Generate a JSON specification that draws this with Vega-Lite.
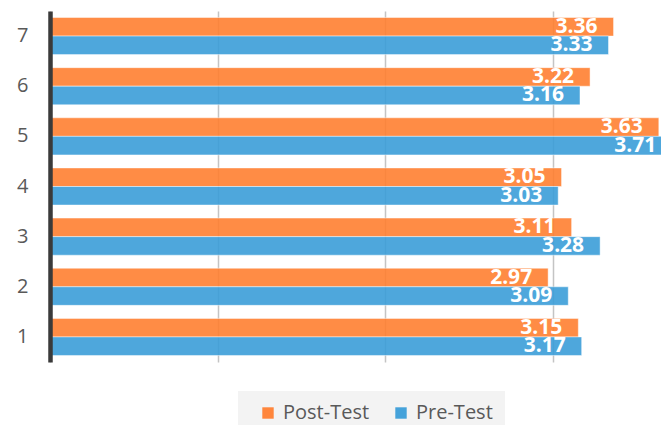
{
  "$schema": "https://vega.github.io/schema/vega-lite/v6.json",
  "autosize": "none",
  "width": 611,
  "height": 351,
  "padding": {"left": 50, "top": 11, "right": 0, "bottom": 63},
  "background": "white",
  "config": {
    "view": {"stroke": null},
    "font": "Open Sans"
  },
  "data": {
    "values": [
      {"q": "7", "series": "Post-Test", "value": 3.36},
      {"q": "7", "series": "Pre-Test", "value": 3.33},
      {"q": "6", "series": "Post-Test", "value": 3.22},
      {"q": "6", "series": "Pre-Test", "value": 3.16},
      {"q": "5", "series": "Post-Test", "value": 3.63},
      {"q": "5", "series": "Pre-Test", "value": 3.71},
      {"q": "4", "series": "Post-Test", "value": 3.05},
      {"q": "4", "series": "Pre-Test", "value": 3.03},
      {"q": "3", "series": "Post-Test", "value": 3.11},
      {"q": "3", "series": "Pre-Test", "value": 3.28},
      {"q": "2", "series": "Post-Test", "value": 2.97},
      {"q": "2", "series": "Pre-Test", "value": 3.09},
      {"q": "1", "series": "Post-Test", "value": 3.15},
      {"q": "1", "series": "Pre-Test", "value": 3.17}
    ]
  },
  "encoding": {
    "y": {
      "field": "q",
      "type": "nominal",
      "sort": "descending",
      "scale": {"paddingInner": 0.26, "paddingOuter": 0.13},
      "axis": {
        "title": null,
        "domainColor": "#3a3a3a",
        "domainWidth": 4.5,
        "ticks": false,
        "tickSize": 0,
        "labelPadding": 22,
        "labelFontSize": 20,
        "labelColor": "#595959",
        "labelFont": "Open Sans",
        "grid": false,
        "zindex": 1
      }
    },
    "yOffset": {"field": "series", "type": "nominal", "sort": "ascending", "scale": {"paddingInner": 0}},
    "x": {
      "field": "value",
      "type": "quantitative",
      "scale": {"domain": [0, 3.643], "nice": false, "zero": true},
      "axis": {
        "title": null,
        "values": [0, 1, 2, 3],
        "labels": false,
        "ticks": false,
        "domain": false,
        "grid": true,
        "gridColor": "#c4c4c4",
        "gridWidth": 1.5,
        "zindex": 0
      }
    }
  },
  "layer": [
    {
      "mark": {"type": "bar", "clip": true, "fillOpacity": 0.9, "stroke": "white", "strokeOpacity": 0.45, "strokeWidth": 1},
      "encoding": {
        "color": {
          "field": "series",
          "type": "nominal",
          "scale": {"domain": ["Post-Test", "Pre-Test"], "range": ["#FF7F31", "#3B9DD8"]},
          "legend": {
            "title": null,
            "orient": "none",
            "legendX": 188,
            "legendY": 380,
            "direction": "horizontal",
            "fillColor": "#f3f3f3",
            "padding": 12,
            "symbolOffset": 8,
            "symbolType": "square",
            "symbolSize": 130,
            "symbolStrokeWidth": 0,
            "symbolOpacity": 0.95,
            "labelFontSize": 20,
            "labelFont": "Open Sans",
            "labelColor": "#595959",
            "labelOffset": 5,
            "columnPadding": 13
          }
        }
      }
    },
    {
      "mark": {"type": "text", "align": "center", "baseline": "middle", "dx": -37, "dy": 0, "fontSize": 21, "fontWeight": "bold", "font": "Open Sans", "color": "white"},
      "encoding": {
        "text": {"field": "value", "type": "quantitative", "format": ".2f"}
      }
    }
  ]
}
